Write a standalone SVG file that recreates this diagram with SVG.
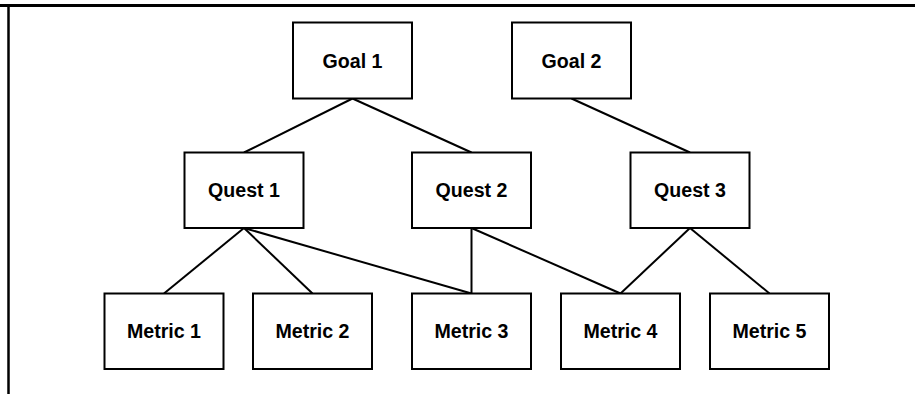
<svg xmlns="http://www.w3.org/2000/svg" width="915" height="394" viewBox="0 0 915 394">
<style>
.box{fill:#fff;stroke:#000;stroke-width:2}
.lbl{font-family:"Liberation Sans",Arial,sans-serif;font-weight:bold;font-size:19.6px;text-anchor:middle;fill:#000}
.edge{stroke:#000;stroke-width:2;fill:none}
</style>
<rect width="915" height="394" fill="#fff"/>
<g id="frame">
<line x1="0" y1="5.5" x2="915" y2="5.5" stroke="#000" stroke-width="3"/>
<line x1="8.5" y1="4" x2="8.5" y2="394" stroke="#000" stroke-width="2.5"/>
</g>
<g id="connectors">
<line class="edge" x1="352.5" y1="98.5" x2="244" y2="152.5"/>
<line class="edge" x1="352.5" y1="98.5" x2="471.5" y2="152.5"/>
<line class="edge" x1="571.5" y1="98.5" x2="690" y2="152.5"/>
<line class="edge" x1="244" y1="228" x2="164" y2="293.5"/>
<line class="edge" x1="244" y1="228" x2="312.5" y2="293.5"/>
<line class="edge" x1="244" y1="228" x2="471.5" y2="293.5"/>
<line class="edge" x1="471.5" y1="228" x2="471.5" y2="293.5"/>
<line class="edge" x1="471.5" y1="228" x2="620.5" y2="293.5"/>
<line class="edge" x1="690" y1="228" x2="620.5" y2="293.5"/>
<line class="edge" x1="690" y1="228" x2="769.5" y2="293.5"/>
</g>
<g id="goal1"><rect class="box" x="293" y="22.5" width="119" height="76"/><text class="lbl" x="352.5" y="67.5">Goal 1</text></g>
<g id="goal2"><rect class="box" x="512" y="22.5" width="119" height="76"/><text class="lbl" x="571.5" y="67.5">Goal 2</text></g>
<g id="quest1"><rect class="box" x="184.5" y="152.5" width="119" height="75.5"/><text class="lbl" x="244" y="197">Quest 1</text></g>
<g id="quest2"><rect class="box" x="412" y="152.5" width="119" height="75.5"/><text class="lbl" x="471.5" y="197">Quest 2</text></g>
<g id="quest3"><rect class="box" x="630.5" y="152.5" width="119" height="75.5"/><text class="lbl" x="690" y="197">Quest 3</text></g>
<g id="metric1"><rect class="box" x="104.5" y="293.5" width="119" height="75.5"/><text class="lbl" x="164" y="337.5">Metric 1</text></g>
<g id="metric2"><rect class="box" x="253" y="293.5" width="119" height="75.5"/><text class="lbl" x="312.5" y="337.5">Metric 2</text></g>
<g id="metric3"><rect class="box" x="412" y="293.5" width="119" height="75.5"/><text class="lbl" x="471.5" y="337.5">Metric 3</text></g>
<g id="metric4"><rect class="box" x="561" y="293.5" width="119" height="75.5"/><text class="lbl" x="620.5" y="337.5">Metric 4</text></g>
<g id="metric5"><rect class="box" x="710" y="293.5" width="119" height="75.5"/><text class="lbl" x="769.5" y="337.5">Metric 5</text></g>
</svg>
